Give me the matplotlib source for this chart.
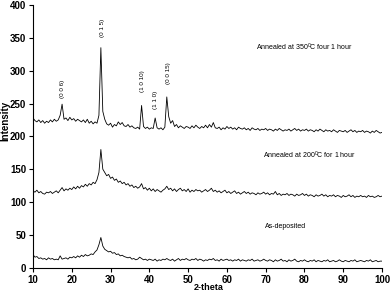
import numpy as np
import matplotlib
matplotlib.use("Agg")
import matplotlib.pyplot as plt
from matplotlib import font_manager

plt.rcParams['font.family'] = ['Liberation Sans', 'DejaVu Sans']
plt.rcParams['mathtext.fontset'] = 'custom'
plt.rcParams['mathtext.rm'] = 'Liberation Sans'
plt.rcParams['mathtext.it'] = 'Liberation Sans'

names = {f.name for f in font_manager.fontManager.ttflist}
narrow = 'Liberation Sans Narrow' if 'Liberation Sans Narrow' in names else 'Liberation Sans'

two_theta_start = 10.0
two_theta_step = 0.5

annealed_350 = [
    228, 224, 222, 225, 221, 224, 220, 223, 221, 225,
    222, 226, 223, 225, 232, 249, 226, 228, 224, 229,
    225, 227, 223, 226, 224, 222, 225, 221, 226, 220,
    223, 219, 222, 220, 232, 335, 238, 226, 219, 217,
    220, 214, 218, 216, 222, 218, 221, 216, 215, 218,
    214, 216, 213, 212, 214, 211, 247, 215, 212, 214,
    211, 213, 212, 228, 213, 211, 213, 210, 214, 260,
    230, 220, 224, 215, 218, 213, 216, 214, 212, 215,
    214, 212, 216, 213, 217, 214, 212, 215, 213, 217,
    213, 218, 214, 221, 213, 212, 214, 210, 213, 211,
    215, 212, 214, 211, 213, 210, 214, 212, 211, 213,
    210, 212, 209, 213, 211, 210, 212, 209, 211, 210,
    212, 209, 211, 210, 208, 211, 209, 212, 210, 208,
    210, 209, 211, 208, 210, 212, 209, 211, 208, 210,
    209, 211, 208, 210, 209, 207, 210, 208, 211, 209,
    207, 210, 208, 209, 207, 210, 208, 206, 209, 208,
    207, 209, 206, 208, 210, 207, 209, 206, 208, 207,
    209, 206, 208, 207, 205, 208, 206, 209, 207, 205,
    206,
]

annealed_200 = [
    117, 115, 118, 114, 116, 113, 112, 115, 114, 116,
    113, 115, 117, 114, 118, 122, 117, 120, 118, 121,
    119, 123, 120, 124, 121, 125, 123, 127, 124, 128,
    126, 130, 128, 134, 145, 180, 150, 145, 140, 142,
    136, 138, 133, 135, 130, 132, 128, 130, 126, 128,
    124, 126, 122, 124, 121, 123, 128, 120, 122, 118,
    121, 117, 120, 116, 119, 117, 115, 118, 120, 124,
    119, 121, 117, 120, 116, 119, 121, 117, 119, 116,
    120, 115, 118, 116, 119, 117, 118, 115, 117, 119,
    116, 118, 121, 116, 118, 115, 117, 114, 116, 118,
    114, 116, 113, 115, 117, 113, 115, 112, 114, 116,
    113, 115, 112, 114, 113, 111, 114, 112, 113, 115,
    112, 114, 111, 113, 112, 116, 111, 113, 110, 112,
    111, 113, 110, 112, 111, 109, 112, 110, 111, 113,
    110, 112, 109, 111, 110, 108, 111, 109, 110, 112,
    109, 111, 108, 110, 109, 111, 108, 110, 109, 107,
    110, 108, 109, 111, 108, 110, 107, 109, 108, 110,
    108, 109, 107, 110, 108, 109, 107, 108, 110, 108,
    109,
]

as_deposited = [
    20, 16, 17, 14, 15, 13, 14, 12, 15, 13,
    14, 12, 13, 12, 18, 13, 14, 15, 13, 16,
    15, 17, 15, 18, 16, 19, 17, 20, 18, 19,
    21, 20, 24, 27, 35, 46, 33, 28, 26, 24,
    25, 22, 23, 20, 21, 18, 19, 17, 16, 15,
    16, 13, 14, 12, 13, 16, 14, 12, 13, 11,
    13, 12, 11, 13, 10, 12, 11, 13, 12, 14,
    12, 11, 13, 10, 12, 14, 11, 13, 12, 14,
    12, 11, 13, 12, 14, 11, 13, 12, 10, 12,
    11, 13, 12, 14, 11, 12, 10, 13, 11, 12,
    13, 11, 12, 10, 12, 11, 13, 10, 12, 11,
    10, 12, 11, 13, 10, 11, 12, 10, 11, 13,
    11, 10, 12, 11, 9, 12, 10, 11, 13, 10,
    11, 9, 12, 10, 11, 13, 10, 9, 11, 10,
    12, 10, 9, 11, 10, 12, 9, 11, 10, 9,
    11, 10, 12, 9, 10, 11, 9, 10, 12, 10,
    9, 11, 10, 9, 11, 10, 12, 9, 10, 11,
    10, 9, 11, 10, 12, 9, 10, 11, 9, 10,
    10,
]

peak_labels = ["(0 0 6)", "(0 1 5)", "(1 0 10)", "(1 1 0)", "(0 0 15)"]
peak_label_x = [17.5, 28.0, 38.2, 41.6, 45.0]
peak_label_y = [272, 365, 284, 255, 296]

curve_labels = ["Annealed at 350$^0$C four 1 hour",
                "Annealed at 200$^0$C for 1 hour",
                "As-deposited"]
curve_label_x = [80.1, 81.4, 75.2]
curve_label_y = [336, 171, 62]

x = two_theta_start + two_theta_step * np.arange(len(annealed_350))

fig = plt.figure(figsize=(3.92, 2.94), dpi=100)
ax = fig.add_axes([0.0842, 0.0895, 0.8903, 0.8935])

for series in (annealed_350, annealed_200, as_deposited):
    ax.plot(x, series, color='black', linewidth=0.6)

for lab, px, py in zip(peak_labels, peak_label_x, peak_label_y):
    ax.text(px, py, lab, rotation=90, ha='center', va='center', fontsize=4.5)

for lab, px, py in zip(curve_labels, curve_label_x, curve_label_y):
    ax.text(px, py, lab, ha='center', va='center', fontsize=5)

ax.set_xlim(10, 100)
ax.set_ylim(0, 400)
ax.set_xticks(np.arange(10, 101, 10))
ax.set_yticks(np.arange(0, 401, 50))
ax.spines['top'].set_visible(False)
ax.spines['right'].set_visible(False)
ax.spines['left'].set_linewidth(0.8)
ax.spines['bottom'].set_linewidth(0.8)
ax.tick_params(axis='both', direction='out', length=3, width=0.8, labelsize=7, pad=2)
for lab in ax.get_xticklabels() + ax.get_yticklabels():
    lab.set_family([narrow, 'DejaVu Sans'])
    lab.set_fontweight('bold')
ax.set_xlabel("2-theta", fontsize=6.5, fontweight='bold', family=[narrow, 'DejaVu Sans'])
ax.set_ylabel("Intensity", fontsize=7, fontweight='bold', family=[narrow, 'DejaVu Sans'])
ax.xaxis.set_label_coords(0.503, -0.058)
ax.yaxis.set_label_coords(-0.066, 0.558)

fig.savefig("out.png", dpi=100)
